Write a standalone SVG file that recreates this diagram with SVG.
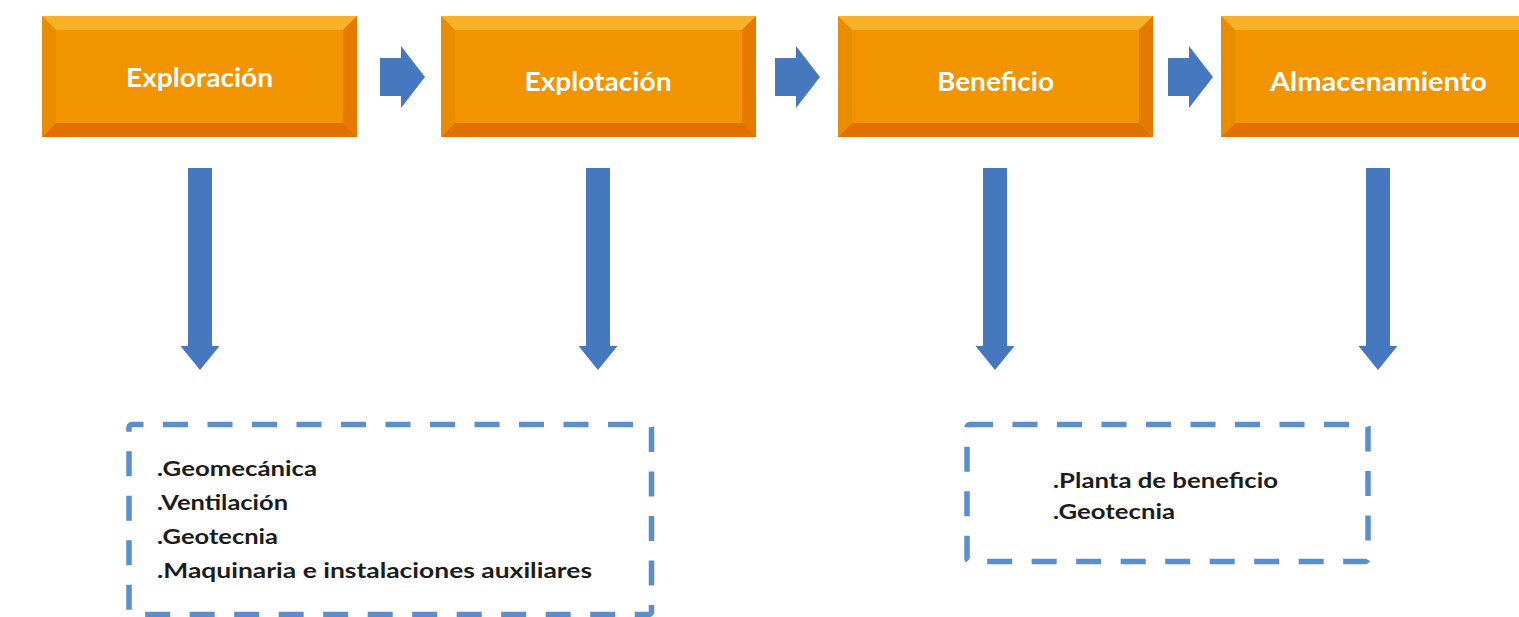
<svg xmlns="http://www.w3.org/2000/svg" xmlns:xlink="http://www.w3.org/1999/xlink" width="1519" height="617" viewBox="0 0 1519 617">
<style>
.bt{fill:#F9B12A}.bb{fill:#E07000}.bl{fill:#E98C00}.br{fill:#E57A00}.bc{fill:#F29300}
.head{font-family:Lato,"Open Sans","Liberation Sans",sans-serif;font-weight:700;font-size:27px;fill:#FFFFFF;text-anchor:middle}
.body{font-family:Lato,"Open Sans","Liberation Sans",sans-serif;font-weight:700;font-size:21.5px;fill:#1C1C1C}
.arrow{fill:#4678BF}
.dash{fill:none;stroke:#5B8ECD;stroke-width:5.5;stroke-dasharray:25 19.5}
</style>
<defs>
<g id="bevelbox">
<rect x="0" y="0" width="315" height="121" class="bc"/>
<polygon points="0,0 315,0 301,14 14,14" class="bt"/>
<polygon points="0,121 315,121 301,107 14,107" class="bb"/>
<polygon points="0,0 14,14 14,107 0,121" class="bl"/>
<polygon points="315,0 301,14 301,107 315,121" class="br"/>
</g>
</defs>
<rect width="1519" height="617" fill="#FFFFFF"/>
<g id="node-exploracion">
<use xlink:href="#bevelbox" x="42" y="16"/>
<text class="head" x="199.5" y="87" textLength="147" lengthAdjust="spacingAndGlyphs">Exploración</text>
</g>
<g id="node-explotacion">
<use xlink:href="#bevelbox" x="441" y="16"/>
<text class="head" x="598" y="91" textLength="147" lengthAdjust="spacingAndGlyphs">Explotación</text>
</g>
<g id="node-beneficio">
<use xlink:href="#bevelbox" x="838" y="16"/>
<text class="head" x="995.5" y="91" textLength="117" lengthAdjust="spacingAndGlyphs">Beneficio</text>
</g>
<g id="node-almacenamiento">
<use xlink:href="#bevelbox" x="1221" y="16"/>
<text class="head" x="1378.5" y="91" textLength="217" lengthAdjust="spacingAndGlyphs">Almacenamiento</text>
</g>
<g id="connectors">
<polygon class="arrow" points="380,58 401,58 401,46 425,77 401,108 401,96 380,96"/>
<polygon class="arrow" points="775,58 796,58 796,46 820,77 796,108 796,96 775,96"/>
<polygon class="arrow" points="1168,58 1189,58 1189,46 1213,77 1189,108 1189,96 1168,96"/>
<polygon class="arrow" points="188,168 212,168 212,346 219.5,346 200,370 180.5,346 188,346"/>
<polygon class="arrow" points="586,168 610,168 610,346 617.5,346 598,370 578.5,346 586,346"/>
<polygon class="arrow" points="983,168 1007,168 1007,346 1014.5,346 995,370 975.5,346 983,346"/>
<polygon class="arrow" points="1366,168 1390,168 1390,346 1397.5,346 1378,370 1358.5,346 1366,346"/>
</g>
<g id="node-tareas-explotacion">
<rect class="dash" x="129" y="424.5" width="522.5" height="190" rx="3" stroke-dashoffset="13.5"/>
<text class="body" x="157" y="476" textLength="160" lengthAdjust="spacingAndGlyphs">.Geomecánica</text>
<text class="body" x="157" y="510" textLength="131" lengthAdjust="spacingAndGlyphs">.Ventilación</text>
<text class="body" x="157" y="544" textLength="121" lengthAdjust="spacingAndGlyphs">.Geotecnia</text>
<text class="body" x="157" y="578" textLength="435" lengthAdjust="spacingAndGlyphs">.Maquinaria e instalaciones auxiliares</text>
</g>
<g id="node-tareas-beneficio">
<rect class="dash" x="967" y="424.5" width="401" height="137" rx="3" stroke-dashoffset="2"/>
<text class="body" x="1053" y="488" textLength="225" lengthAdjust="spacingAndGlyphs">.Planta de beneficio</text>
<text class="body" x="1053" y="519" textLength="122" lengthAdjust="spacingAndGlyphs">.Geotecnia</text>
</g>
</svg>
